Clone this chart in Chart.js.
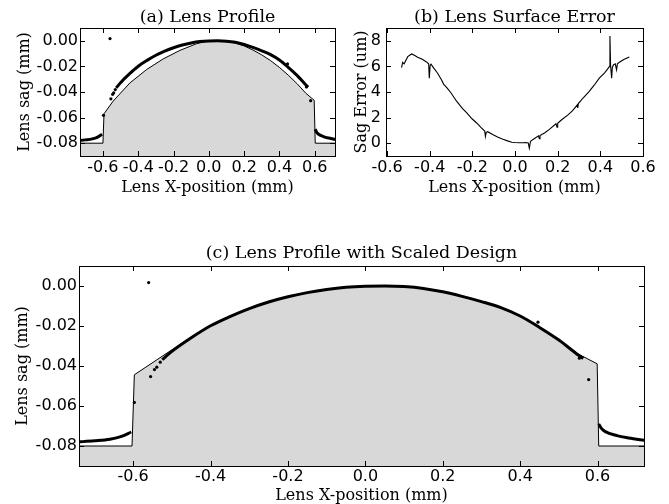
<!DOCTYPE html>
<html>
<head>
<meta charset="utf-8">
<script src="https://cdn.jsdelivr.net/npm/chart.js@4.4.0/dist/chart.umd.min.js"></script>
<style>
  body { margin: 0; background: #fff; }
  #wrap { position: relative; width: 669px; height: 504px; }
  canvas { position: absolute; }
</style>
</head>
<body>
<div id="wrap">
  <canvas id="chartA" width="345" height="205" style="left:0;top:0"></canvas>
  <canvas id="chartB" width="324" height="205" style="left:345px;top:0"></canvas>
  <canvas id="chartC" width="669" height="264" style="left:0;top:240px"></canvas>
</div>
<script>
// measured lens profile (mm)
const arcX = [-0.525, -0.5, -0.45, -0.4, -0.35, -0.3, -0.25, -0.2, -0.15, -0.1, -0.05, 0, 0.05, 0.1, 0.15, 0.2, 0.25, 0.3, 0.35, 0.4, 0.45, 0.5, 0.55, 0.563];
const arcSag = [-0.0368, -0.0327, -0.0259, -0.0199, -0.0153, -0.0113, -0.0080, -0.0054, -0.0033, -0.0017, -0.0006, -0.0001, 0.0000, -0.0003, -0.0012, -0.0029, -0.0052, -0.0078, -0.0108, -0.0150, -0.0207, -0.0270, -0.0345, -0.0362];
const tailLeftX = [-0.745, -0.70, -0.66, -0.63, -0.605];
const tailLeftSag = [-0.0780, -0.0774, -0.0766, -0.0752, -0.0730];
const tailRightX = [0.603, 0.61, 0.62, 0.65, 0.68, 0.725];
const tailRightSag = [-0.0690, -0.0712, -0.0728, -0.0748, -0.0760, -0.0773];
const strayX = [-0.560, -0.597, -0.555, -0.545, -0.539, -0.530, 0.446, 0.553, 0.577];
const straySag = [0.0017, -0.0582, -0.0453, -0.0418, -0.0406, -0.0381, -0.0181, -0.0361, -0.0468];

// design profile (a) and scaled design (c)
const designX = [-0.74, -0.6, -0.594, -0.542, -0.447, -0.353, -0.259, -0.164, -0.07, 0, 0.05, 0.1, 0.15, 0.2, 0.25, 0.3, 0.35, 0.4, 0.45, 0.5, 0.55, 0.597, 0.603, 0.72];
const designSag = [-0.08, -0.08, -0.057, -0.0471, -0.0329, -0.0225, -0.0142, -0.0075, -0.0023, 0, 0.0002, -0.0003, -0.0017, -0.0040, -0.0072, -0.0110, -0.0155, -0.0208, -0.0268, -0.0335, -0.0410, -0.0465, -0.08, -0.08];
const scaledX = [-0.74, -0.603, -0.597, -0.5, -0.45, -0.4, -0.35, -0.3, -0.25, -0.2, -0.15, -0.1, -0.05, 0, 0.05, 0.1, 0.15, 0.2, 0.25, 0.3, 0.35, 0.4, 0.45, 0.5, 0.55, 0.599, 0.603, 0.72];
const scaledSag = [-0.08, -0.08, -0.0444, -0.0319, -0.0256, -0.0197, -0.0152, -0.0112, -0.0079, -0.0053, -0.0032, -0.0016, -0.0006, -0.0001, 0, -0.0003, -0.0012, -0.0029, -0.0052, -0.0078, -0.0108, -0.0150, -0.0206, -0.0270, -0.0340, -0.0389, -0.08, -0.08];

// surface error (um)
const errX = [-0.532, -0.527, -0.520, -0.503, -0.485, -0.470, -0.457, -0.435, -0.417, -0.405, -0.402, -0.398, -0.394, -0.380, -0.363, -0.345, -0.335, -0.318, -0.300, -0.275, -0.246, -0.225, -0.203, -0.180, -0.159, -0.142, -0.139, -0.135, -0.128, -0.105, -0.082, -0.060, -0.035, -0.015, 0.000, 0.020, 0.040, 0.051, 0.062, 0.067, 0.072, 0.075, 0.095, 0.110, 0.114, 0.117, 0.140, 0.161, 0.192, 0.197, 0.200, 0.220, 0.247, 0.270, 0.292, 0.294, 0.297, 0.320, 0.348, 0.372, 0.395, 0.420, 0.439, 0.443, 0.445, 0.448, 0.453, 0.456, 0.461, 0.470, 0.476, 0.480, 0.489, 0.512, 0.536];
const errSag = [5.91, 6.32, 6.20, 6.76, 6.97, 6.85, 6.71, 6.55, 6.37, 6.2, 5.08, 6.1, 6.17, 5.85, 5.47, 4.95, 4.62, 4.3, 3.92, 3.3, 2.71, 2.35, 1.93, 1.58, 1.21, 0.95, 0.52, 0.85, 0.90, 0.68, 0.49, 0.32, 0.18, 0.08, 0.05, 0.04, 0.03, 0.05, 0.02, -0.39, 0.10, 0.18, 0.40, 0.57, 0.35, 0.60, 0.82, 1.08, 1.52, 1.25, 1.55, 1.85, 2.19, 2.55, 3.0, 2.75, 3.10, 3.55, 4.05, 4.55, 5.08, 5.5, 5.91, 6.0, 8.38, 6.05, 5.08, 5.9, 6.11, 6.2, 5.73, 6.2, 6.32, 6.55, 6.73];

// tick labels
const profileXTicks = [-0.6, -0.4, -0.2, 0.0, 0.2, 0.4, 0.6];
const profileYTicks = [0.00, -0.02, -0.04, -0.06, -0.08];
const errXTicks = [-0.6, -0.4, -0.2, 0.0, 0.2, 0.4, 0.6];
const errYTicks = [0, 2, 4, 6, 8];

const GREY = '#d8d8d8';
const pts = (xs, ys) => xs.map((x, i) => ({ x: x, y: ys[i] }));

// matplotlib style: frame plus ticks pointing inward on all four sides
const innerTicks = {
  id: 'innerTicks',
  afterDraw(chart) {
    const { ctx, chartArea: a, scales } = chart;
    const len = 5;
    ctx.save();
    ctx.strokeStyle = '#000';
    ctx.lineWidth = 1;
    ctx.beginPath();
    scales.x.ticks.forEach(t => {
      const px = Math.round(scales.x.getPixelForValue(t.value)) + 0.5;
      ctx.moveTo(px, a.bottom); ctx.lineTo(px, a.bottom - len);
      ctx.moveTo(px, a.top); ctx.lineTo(px, a.top + len);
    });
    scales.y.ticks.forEach(t => {
      const py = Math.round(scales.y.getPixelForValue(t.value)) + 0.5;
      ctx.moveTo(a.left, py); ctx.lineTo(a.left + len, py);
      ctx.moveTo(a.right, py); ctx.lineTo(a.right - len, py);
    });
    ctx.stroke();
    ctx.strokeRect(Math.round(a.left) + 0.5, Math.round(a.top) + 0.5,
      Math.round(a.right - a.left), Math.round(a.bottom - a.top));
    ctx.restore();
  }
};

function axis(title, tickList, min, max, digits, size, titlePad, tickPad) {
  return {
    type: 'linear',
    min: min,
    max: max,
    grid: { display: false, drawTicks: false },
    border: { display: false },
    afterBuildTicks: s => { s.ticks = tickList.map(v => ({ value: v })); },
    afterFit: s => { if (s.isHorizontal()) s.height = size; else s.width = size; },
    ticks: {
      color: '#000',
      font: { family: 'DejaVu Sans', size: 16 },
      padding: tickPad,
      autoSkip: false,
      maxRotation: 0,
      callback: v => Number(v).toFixed(digits)
    },
    title: {
      display: true,
      text: title,
      color: '#000',
      font: { family: 'DejaVu Serif', size: 16 },
      padding: titlePad
    }
  };
}

function baseOptions(title, titlePad, pad) {
  return {
    responsive: false,
    animation: false,
    devicePixelRatio: 1,
    layout: { padding: pad },
    elements: { point: { radius: 0 } },
    plugins: {
      legend: { display: false },
      tooltip: { enabled: false },
      title: {
        display: true,
        text: title,
        fullSize: false,
        color: '#000',
        font: { family: 'DejaVu Serif', size: 17.5, weight: 'normal' },
        padding: titlePad
      }
    }
  };
}

function profileDatasets(dx, dy, lw) {
  const meas = (xs, ys) => ({
    data: pts(xs, ys), borderColor: '#000', borderWidth: lw, fill: false,
    pointRadius: 0, cubicInterpolationMode: 'monotone', order: 1
  });
  return [
    { data: pts(dx, dy), borderColor: '#000', borderWidth: 1, backgroundColor: GREY,
      fill: 'start', pointRadius: 0, tension: 0, order: 3 },
    meas(tailLeftX, tailLeftSag),
    meas(arcX, arcSag),
    meas(tailRightX, tailRightSag),
    { data: pts(strayX, straySag), showLine: false, pointRadius: 1.6,
      pointBackgroundColor: '#000', pointBorderWidth: 0, order: 0 }
  ];
}

// (a) Lens Profile
const optA = baseOptions('(a) Lens Profile', { top: 7, bottom: 0 }, { left: 0, right: 10, top: 0, bottom: 0 });
optA.scales = {
  x: axis('Lens X-position (mm)', profileXTicks, -0.73, 0.715, 1, 49, { top: 0, bottom: 8 }, 2),
  y: axis('Lens sag (mm)', profileYTicks, -0.09, 0.01, 2, 80, { top: 15, bottom: 0 }, 2)
};
new Chart(document.getElementById('chartA'), {
  type: 'line',
  data: { datasets: profileDatasets(designX, designSag, 3) },
  options: optA,
  plugins: [innerTicks]
});

// (b) Lens Surface Error
const optB = baseOptions('(b) Lens Surface Error', { top: 7, bottom: 0 }, { left: 0, right: 26, top: 0, bottom: 0 });
optB.scales = {
  x: axis('Lens X-position (mm)', errXTicks, -0.605, 0.6, 1, 49, { top: 0, bottom: 8 }, 2),
  y: axis('Sag Error (um)', errYTicks, -1, 9, 0, 41, { top: 7, bottom: 0 }, 5)
};
new Chart(document.getElementById('chartB'), {
  type: 'line',
  data: {
    datasets: [{
      data: pts(errX, errSag), borderColor: '#000', borderWidth: 1.1,
      fill: false, pointRadius: 0, tension: 0
    }]
  },
  options: optB,
  plugins: [innerTicks]
});

// (c) Lens Profile with Scaled Design
const optC = baseOptions('(c) Lens Profile with Scaled Design', { top: 2.5, bottom: 2.5 }, { left: 0, right: 25, top: 0, bottom: 0 });
optC.scales = {
  x: axis('Lens X-position (mm)', profileXTicks, -0.74, 0.72, 1, 38, { top: 0, bottom: 0 }, 1.5),
  y: axis('Lens sag (mm)', profileYTicks, -0.09, 0.01, 2, 79, { top: 13.5, bottom: 0 }, 2)
};
optC.scales.x.title.font.lineHeight = 1;
new Chart(document.getElementById('chartC'), {
  type: 'line',
  data: { datasets: profileDatasets(scaledX, scaledSag, 3) },
  options: optC,
  plugins: [innerTicks]
});
</script>
</body>
</html>
